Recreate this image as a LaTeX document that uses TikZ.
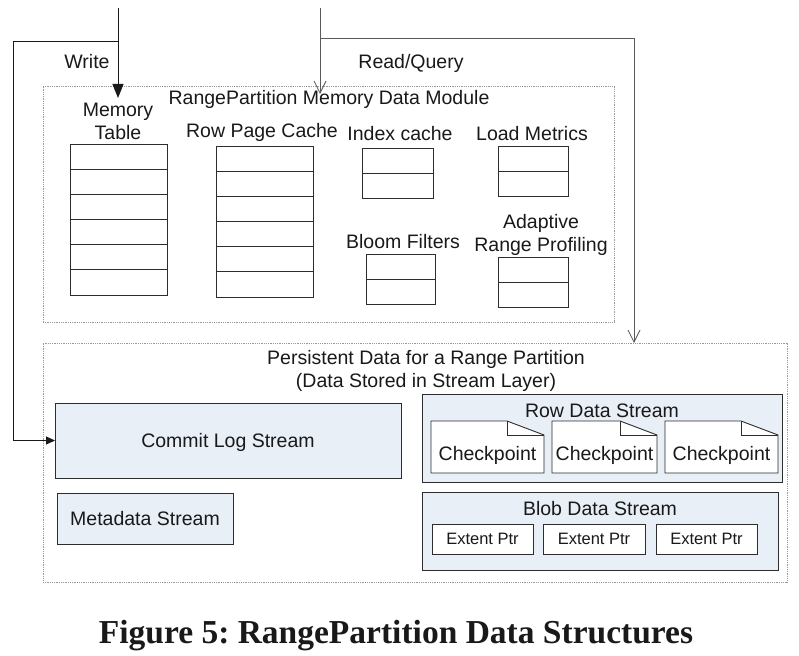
\documentclass[tikz,border=0pt]{standalone}
\usepackage{fontspec}
\setmainfont{Liberation Sans}
\newfontfamily\capfont{Liberation Serif}
\usetikzlibrary{arrows.meta,calc}
\definecolor{streamfill}{RGB}{233,239,247}
\definecolor{edgecol}{RGB}{45,45,45}
\definecolor{txtcol}{RGB}{25,25,25}
\frenchspacing
\begin{document}
\begin{tikzpicture}[x=1pt,y=-1pt,
  lbl/.style={font=\fontsize{19.5}{23}\selectfont, text=txtcol, align=center, inner sep=0pt, text depth=0pt},
  smalllbl/.style={font=\fontsize{16.5}{20}\selectfont, text=txtcol},
  container/.style={draw=black!40, dash pattern=on 1pt off 0.8pt, line width=0.8pt, inner sep=0pt, outer sep=0pt},
  cell/.style={draw=edgecol, line width=0.9pt, fill=white, inner sep=0pt, outer sep=0pt},
  stream/.style={draw=edgecol, line width=0.9pt, fill=streamfill, inner sep=0pt, outer sep=0pt},
  rowline/.style={draw=edgecol, line width=0.9pt},
  docshape/.style={draw=edgecol, line width=0.9pt, fill=white, line join=miter},
  wline/.style={draw=black!90, line width=0.9pt},
  rline/.style={draw=black!65, line width=0.8pt}
]
\useasboundingbox (0,0) rectangle (799,655);

% containers
\node[container, minimum width=571pt, minimum height=236pt] (mem) at (328.5,204) {};
\node[container, minimum width=744pt, minimum height=239pt] (pers) at (415,462.5) {};

% memory module labels
\node[lbl] (memtitle) at (329,97.5) {RangePartition Memory Data Module};
\node[lbl] (mtlbl) at (118,121) {Memory\\Table};
\node[lbl] (rpclbl) at (262,130) {Row Page Cache};
\node[lbl] (iclbl) at (400,133) {Index cache};
\node[lbl] (lmlbl) at (532,133) {Load Metrics};
\node[lbl] (bflbl) at (403,241) {Bloom Filters};
\node[lbl] (arplbl) at (541,232.5) {Adaptive\\Range Profiling};

% tables
\node[cell, minimum width=97pt, minimum height=151pt] (mt) at (118.5,219.5) {};
\foreach \k in {1,...,5}
  \draw[rowline] ($(mt.north west)!\k/6!(mt.south west)$) -- ($(mt.north east)!\k/6!(mt.south east)$);
\node[cell, minimum width=97pt, minimum height=151pt] (rpc) at (264.5,221.5) {};
\foreach \k in {1,...,5}
  \draw[rowline] ($(rpc.north west)!\k/6!(rpc.south west)$) -- ($(rpc.north east)!\k/6!(rpc.south east)$);
\node[cell, minimum width=71pt, minimum height=50pt] (ic) at (397.5,173) {};
\draw[rowline] (ic.west) -- (ic.east);
\node[cell, minimum width=70pt, minimum height=50pt] (lm) at (533,171) {};
\draw[rowline] (lm.west) -- (lm.east);
\node[cell, minimum width=69pt, minimum height=50pt] (bf) at (400.5,279) {};
\draw[rowline] (bf.west) -- (bf.east);
\node[cell, minimum width=70pt, minimum height=50pt] (arp) at (533,282) {};
\draw[rowline] (arp.west) -- (arp.east);

% persistent part
\node[lbl] (perstitle) at (426,369) {Persistent Data for a Range Partition\\(Data Stored in Stream Layer)};
\node[stream, minimum width=346pt, minimum height=75pt] (cls) at (228,440.5) {};
\node[lbl] (clslbl) at (cls.center) {Commit Log Stream};
\node[stream, minimum width=176pt, minimum height=51pt] (mds) at (145,518.5) {};
\node[lbl] (mdslbl) at (mds.center) {Metadata Stream};

\node[stream, minimum width=360pt, minimum height=88pt] (rds) at (602,438) {};
\node[lbl] (rdslbl) at (602,410.5) {Row Data Stream};
\foreach \n/\cx/\w in {cp1/487.5/113, cp2/604.5/105, cp3/721.5/113} {
  \coordinate (\n nw) at ({\cx-\w/2},421);
  \coordinate (\n ne) at ({\cx+\w/2},421);
  \coordinate (\n se) at ({\cx+\w/2},473);
  \coordinate (\n sw) at ({\cx-\w/2},473);
  \draw[docshape] (\n nw) -- ($(\n ne)+(-37,0)$) -- ($(\n ne)+(0,14)$) -- (\n se) -- (\n sw) -- cycle;
  \draw[docshape, fill=none, line width=0.7pt] ($(\n ne)+(-37,0)$) -- ++(0,14) -- ($(\n ne)+(0,14)$);
  \node[lbl] (\n) at (\cx,453) {Checkpoint};
}

\node[stream, minimum width=356pt, minimum height=78pt] (bds) at (600,531) {};
\node[lbl] (bdslbl) at (600,508) {Blob Data Stream};
\node[cell, smalllbl, minimum width=101pt, minimum height=30pt] (ep1) at (482.5,539) {Extent Ptr};
\node[cell, smalllbl, minimum width=102pt, minimum height=30pt] (ep2) at (594,539) {Extent Ptr};
\node[cell, smalllbl, minimum width=101pt, minimum height=30pt] (ep3) at (706.5,539) {Extent Ptr};

% write path
\coordinate (wtop) at (118,8);
\coordinate (wend) at (118,98);
\coordinate (wsplit) at (118,41);
\coordinate (wcorner) at (13,41);
\draw[wline, -{Triangle[length=14pt,width=11pt]}] (wtop) -- (wend);
\draw[wline, -{Triangle[length=9pt,width=8pt]}] (wsplit) -- (wcorner) |- (cls.west);
\node[lbl] (writelbl) at (87,61.5) {Write};

% read path
\coordinate (rtop) at (320,8);
\coordinate (rend) at (320,94);
\coordinate (rsplit) at (320,38);
\coordinate (rcorner) at (634,38);
\draw[rline, -{Straight Barb[length=12pt,width=12pt]}] (rtop) -- (rend);
\draw[rline, -{Straight Barb[length=12pt,width=12pt]}] (rsplit) -- (rcorner) -- (rcorner |- pers.north);
\node[lbl] (readlbl) at (411,61.5) {Read/Query};

% caption
\node[font=\capfont\bfseries\fontsize{33.5}{40}\selectfont, text=txtcol, inner sep=0pt, text depth=0pt] (caption) at (396,631.5) {Figure 5: RangePartition Data Structures};
\end{tikzpicture}
\end{document}
